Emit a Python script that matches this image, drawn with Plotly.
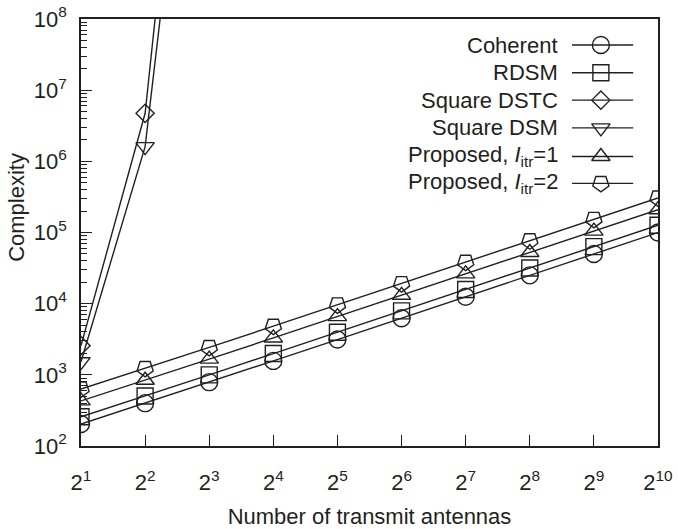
import numpy as np
import plotly.graph_objects as go

# Number of transmit antennas (powers of two)
antennas = [2, 4, 8, 16, 32, 64, 128, 256, 512, 1024]
antenna_exponents = [1, 2, 3, 4, 5, 6, 7, 8, 9, 10]

# Complexity of each detector
coherent = [204, 400, 790, 1570, 3130, 6250, 12500, 25000, 49900, 99800]
rdsm = [258, 505, 1000, 1990, 3970, 7930, 15800, 31700, 63300, 126500]
square_dstc = [2570, 4.73e6, 1.6e15]
square_dsm = [1530, 1.61e6, 7.6e13]
proposed_itr1 = [430, 840, 1660, 3300, 6580, 13100, 26200, 52400, 104700, 209000]
proposed_itr2 = [633, 1230, 2430, 4830, 9640, 19200, 38400, 76700, 153300, 306000]

y_tick_exponents = [2, 3, 4, 5, 6, 7, 8]

INK = "#231f20"
FONT = "Liberation Sans, Arial, Helvetica, sans-serif"
FS = 22

series = [
    ("Coherent", antennas, coherent, "circle-open", 17, 0),
    ("RDSM", antennas, rdsm, "square-open", 16, 0),
    ("Square DSTC", antennas[:3], square_dstc, "diamond-open", 14, 0),
    ("Square DSM", antennas[:3], square_dsm, "triangle-down-open", 16, 0),
    ("Proposed, <i>I</i><sub>itr</sub>=1", antennas, proposed_itr1, "triangle-up-open", 16, 0),
    ("Proposed, <i>I</i><sub>itr</sub>=2", antennas, proposed_itr2, "pentagon-open", 17, 180),
]

fig = go.Figure()

for name, xs, ys, sym, size, ang in series:
    fig.add_trace(go.Scatter(
        x=xs, y=ys, mode="lines+markers", name=name, showlegend=False,
        line=dict(color=INK, width=1.4),
        marker=dict(symbol=sym, size=size, angle=ang, color=INK,
                    line=dict(color=INK, width=1.4)),
        cliponaxis=True,
    ))

# Legend drawn in the upper-right corner: label on the left, sample on the right
row_y = [0.939, 0.874, 0.810, 0.745, 0.678, 0.615]
line_x0, line_x1, mark_x, text_x = 0.851, 0.957, 0.901, 0.830
for (name, xs, ys, sym, size, ang), ry in zip(series, row_y):
    fig.add_trace(go.Scatter(
        x=[line_x0, line_x1], y=[ry, ry], mode="lines", showlegend=False,
        line=dict(color=INK, width=1.4), xaxis="x2", yaxis="y2", hoverinfo="skip"))
    fig.add_trace(go.Scatter(
        x=[mark_x], y=[ry], mode="markers", showlegend=False,
        marker=dict(symbol=sym, size=size, angle=ang, color=INK,
                    line=dict(color=INK, width=1.4)),
        xaxis="x2", yaxis="y2", hoverinfo="skip"))
    fig.add_annotation(x=text_x, y=ry, xref="paper", yref="paper", text=name,
                       showarrow=False, xanchor="right", yanchor="middle",
                       font=dict(family=FONT, size=FS, color=INK))

# Vertical axis title
fig.add_annotation(x=-0.111, y=0.56, xref="paper", yref="paper", text="Complexity",
                   textangle=-90, showarrow=False, xanchor="center", yanchor="middle",
                   font=dict(family=FONT, size=FS, color=INK))

minor_vals = [m * 10 ** e for e in range(2, 8) for m in range(2, 10)]

fig.update_layout(
    width=678, height=529,
    margin=dict(l=81, r=20, t=19, b=83),
    paper_bgcolor="white", plot_bgcolor="white",
    font=dict(family=FONT, size=FS, color=INK),
    xaxis=dict(
        type="log", range=[np.log10(2), np.log10(1024)],
        tickmode="array", tickvals=antennas,
        ticktext=[f"2<sup>{k}</sup>" for k in antenna_exponents],
        ticks="inside", ticklen=11, tickwidth=1.3, tickcolor=INK,
        showline=True, linecolor=INK, linewidth=1.5, mirror=True,
        showgrid=False, zeroline=False, ticklabelstandoff=16,
        automargin=False,
        title=dict(text="Number of transmit antennas", standoff=17,
                   font=dict(family=FONT, size=FS, color=INK)),
    ),
    yaxis=dict(
        type="log", range=[2, 8],
        tickmode="array", tickvals=[10 ** e for e in y_tick_exponents],
        ticktext=[f"10<sup>{e}</sup>" for e in y_tick_exponents],
        ticks="inside", ticklen=11, tickwidth=1.3, tickcolor=INK,
        minor=dict(ticks="inside", ticklen=6, tickwidth=1.1, tickcolor=INK,
                   tickmode="array", tickvals=minor_vals, showgrid=False),
        showline=True, linecolor=INK, linewidth=1.5, mirror=True,
        showgrid=False, zeroline=False, ticklabelstandoff=8,
        automargin=False,
    ),
    xaxis2=dict(overlaying="x", range=[0, 1], visible=False, fixedrange=True),
    yaxis2=dict(overlaying="y", range=[0, 1], visible=False, fixedrange=True),
)

fig.write_html("out.html")
